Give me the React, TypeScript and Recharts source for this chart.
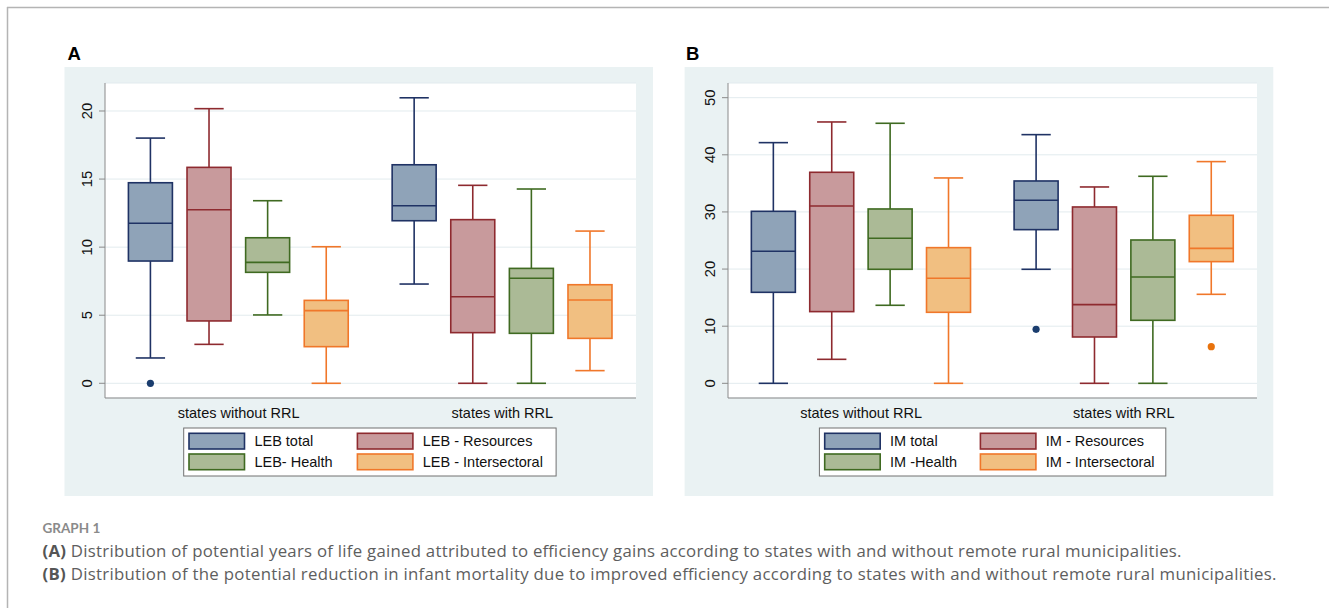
import React from "react";
import { ComposedChart, Bar, XAxis, YAxis, CartesianGrid } from "recharts";

const FONT = '"Liberation Sans", Arial, sans-serif';
const CAPTION_FONT = '"Open Sans", Lato, sans-serif';

// ---------- data ----------
const GROUPS = ["states without RRL", "states with RRL"];
const LEB_SERIES = ["LEB total", "LEB - Resources", "LEB- Health", "LEB - Intersectoral"];
const IM_SERIES = ["IM total", "IM - Resources", "IM -Health", "IM - Intersectoral"];

// [lower whisker, Q1, median, Q3, upper whisker] for [without RRL, with RRL]
const LEB_TOTAL = [[1.86, 8.98, 11.75, 14.73, 18.01], [7.29, 11.94, 13.04, 16.05, 20.97]];
const LEB_RESOURCES = [[2.86, 4.58, 12.75, 15.86, 20.17], [0, 3.72, 6.36, 12.02, 14.54]];
const LEB_HEALTH = [[5.02, 8.15, 8.88, 10.69, 13.41], [0, 3.67, 7.71, 8.44, 14.27]];
const LEB_INTERSECTORAL = [[0, 2.69, 5.34, 6.09, 10.03], [0.93, 3.3, 6.12, 7.24, 11.18]];
// outliers per series, per group
const LEB_OUTLIERS = [[[0], []], [[], []], [[], []], [[], []]];

const IM_TOTAL = [[0, 15.93, 23.11, 30.11, 42.13], [19.96, 26.9, 32.04, 35.42, 43.53]];
const IM_RESOURCES = [[4.2, 12.55, 31.05, 36.94, 45.75], [0, 8.11, 13.77, 30.87, 34.37]];
const IM_HEALTH = [[13.66, 19.96, 25.39, 30.52, 45.52], [0, 11.03, 18.62, 25.09, 36.24]];
const IM_INTERSECTORAL = [[0, 12.43, 18.38, 23.75, 35.95], [15.58, 21.3, 23.63, 29.41, 38.81]];
const IM_OUTLIERS = [[[], [9.45]], [[], []], [[], []], [[], [6.42]]];

const LEB_TICKS = [0, 5, 10, 15, 20];
const IM_TICKS = [0, 10, 20, 30, 40, 50];

// ---------- styles ----------
const FILLS = ["#8fa3b8", "#c89a9c", "#abba96", "#f1bf81"];
const STROKES = ["#1f3264", "#8e2a2f", "#3f6a21", "#f0772a"];
const DOTS = ["#1a3d6e", "#8e2a2f", "#3f6a21", "#e8720c"];
const AXIS_GRAY = "#8a8a8a";

type Row = { pos: number; s: number; stats: number[]; outs: number[]; range: [number, number] };

function buildRows(series: number[][][], outliers: number[][][]): Row[] {
  const rows: Row[] = [];
  for (let g = 0; g < GROUPS.length; g++) {
    for (let s = 0; s < series.length; s++) {
      const st = series[s][g];
      rows.push({ pos: g * 4.5 + s, s, stats: st, outs: outliers[s][g], range: [st[0], st[4]] });
    }
  }
  return rows;
}

const LEB_ROWS = buildRows([LEB_TOTAL, LEB_RESOURCES, LEB_HEALTH, LEB_INTERSECTORAL], LEB_OUTLIERS);
const IM_ROWS = buildRows([IM_TOTAL, IM_RESOURCES, IM_HEALTH, IM_INTERSECTORAL], IM_OUTLIERS);

function BoxShape(props: any) {
  const { x, y, width, height, payload } = props;
  if (!payload || !height) return null;
  const [lo, q1, med, q3, hi] = payload.stats;
  const k = height / (hi - lo);
  const Y = (v: number) => y + (hi - v) * k;
  const cx = x + width / 2;
  const half = width * 0.333;
  const stroke = STROKES[payload.s];
  const fill = FILLS[payload.s];
  const sw = 1.6;
  return (
    <g>
      <line x1={cx} x2={cx} y1={Y(hi)} y2={Y(q3)} stroke={stroke} strokeWidth={sw} />
      <line x1={cx} x2={cx} y1={Y(q1)} y2={Y(lo)} stroke={stroke} strokeWidth={sw} />
      <line x1={cx - half} x2={cx + half} y1={Y(hi)} y2={Y(hi)} stroke={stroke} strokeWidth={sw} />
      <line x1={cx - half} x2={cx + half} y1={Y(lo)} y2={Y(lo)} stroke={stroke} strokeWidth={sw} />
      <rect x={x} y={Y(q3)} width={width} height={Y(q1) - Y(q3)} fill={fill} stroke={stroke} strokeWidth={sw} />
      <line x1={x} x2={x + width} y1={Y(med)} y2={Y(med)} stroke={stroke} strokeWidth={sw} />
      {payload.outs.map((v: number, i: number) => (
        <circle key={i} cx={cx} cy={Y(v)} r={3.6} fill={DOTS[payload.s]} />
      ))}
    </g>
  );
}

function RotTick(props: any) {
  const { x, y, payload } = props;
  const px = x - 5.3;
  return (
    <text
      x={px}
      y={y}
      transform={`rotate(-90 ${px} ${y})`}
      textAnchor="middle"
      fontSize={14.8}
      fontFamily={FONT}
      fill="#111"
    >
      {payload.value}
    </text>
  );
}

function Panel(props: {
  rows: Row[];
  left: number;
  yAxisWidth: number;
  rightMargin: number;
  yDomain: [number, number];
  yTicks: number[];
}) {
  const { rows, left, yAxisWidth, rightMargin, yDomain, yTicks } = props;
  return (
    <div style={{ position: "absolute", left, top: 67 }}>
      <ComposedChart
        width={588}
        height={361}
        data={rows}
        margin={{ top: 16, right: rightMargin, bottom: 0, left: 0 }}
      >
        <CartesianGrid vertical={false} stroke="#e2ebee" fill="#ffffff" />
        <XAxis
          type="number"
          dataKey="pos"
          domain={[-0.78, 8.28]}
          ticks={[1.5, 6]}
          interval={0}
          allowDataOverflow
          tickFormatter={(v: number) => (v < 3 ? GROUPS[0] : GROUPS[1])}
          tickLine={{ stroke: "none" }}
          tickSize={6}
          tickMargin={3.5}
          axisLine={{ stroke: AXIS_GRAY }}
          tick={{ fontSize: 14.5, fontFamily: FONT, fill: "#111" }}
          height={30}
        />
        <YAxis
          type="number"
          domain={yDomain}
          ticks={yTicks}
          interval={0}
          allowDataOverflow
          width={yAxisWidth}
          tick={<RotTick />}
          tickLine={{ stroke: AXIS_GRAY }}
          tickSize={6}
          axisLine={{ stroke: AXIS_GRAY }}
        />
        <Bar dataKey="range" barSize={44} shape={<BoxShape />} isAnimationActive={false} />
      </ComposedChart>
    </div>
  );
}

function LegendBox(props: { x: number; width: number; col2: number; labels: string[] }) {
  const { x, width, col2, labels } = props;
  const top = 427.5;
  const rowsY = [433.3, 454];
  const cols = [5.8, col2];
  return (
    <g>
      <rect x={x + 0.5} y={top + 0.5} width={width} height={48} fill="#ffffff" stroke="#707070" strokeWidth={1} />
      {labels.map((lab, i) => {
        const c = i % 2;
        const r = Math.floor(i / 2);
        const sx = x + cols[c];
        const sy = rowsY[r];
        return (
          <g key={i}>
            <rect x={sx} y={sy} width={55.5} height={15.7} fill={FILLS[i]} stroke={STROKES[i]} strokeWidth={1.6} />
            <text x={sx + 65.4} y={sy + 13} fontSize={14.5} fontFamily={FONT} fill="#111">
              {lab}
            </text>
          </g>
        );
      })}
    </g>
  );
}

export default function App() {
  return (
    <div style={{ position: "absolute", left: 0, top: 0, width: 1329, height: 608, overflow: "hidden", background: "#fff" }}>
      <svg width={1329} height={608} style={{ position: "absolute", left: 0, top: 0 }}>
        <line x1={7} y1={7.5} x2={1329} y2={7.5} stroke="#b4b4b4" strokeWidth={1.5} />
        <line x1={7.5} y1={7} x2={7.5} y2={608} stroke="#b4b4b4" strokeWidth={1.5} />
        <rect x={64.5} y={67} width={588.5} height={429} fill="#eaf2f3" />
        <rect x={684.6} y={67} width={588.7} height={429} fill="#eaf2f3" />
        <text x={67.5} y={60} fontSize={18.5} fontWeight={700} fontFamily={FONT} fill="#000">A</text>
        <text x={686} y={60} fontSize={18.5} fontWeight={700} fontFamily={FONT} fill="#000">B</text>
        <LegendBox x={183.2} width={372.4} col2={174.2} labels={LEB_SERIES} />
        <LegendBox x={818.9} width={346.4} col2={161.5} labels={IM_SERIES} />
        <text x={42.5} y={533.3} fontSize={13.5} fontWeight={700} fontFamily='Lato, sans-serif' fill="#8a8a8a">GRAPH 1</text>
        <text x={42.5} y={557.3} fontSize={16.8} fontFamily={CAPTION_FONT} fill="#5e5e5e" textLength={1139} lengthAdjust="spacing">
          <tspan fontWeight={700} fill="#555">(A)</tspan>
          {" Distribution of potential years of life gained attributed to efficiency gains according to states with and without remote rural municipalities."}
        </text>
        <text x={42.5} y={580} fontSize={16.8} fontFamily={CAPTION_FONT} fill="#5e5e5e" textLength={1234} lengthAdjust="spacing">
          <tspan fontWeight={700} fill="#555">(B)</tspan>
          {" Distribution of the potential reduction in infant mortality due to improved efficiency according to states with and without remote rural municipalities."}
        </text>
      </svg>
      <Panel rows={LEB_ROWS} left={65} yAxisWidth={40} rightMargin={17} yDomain={[-1.08, 22.056]} yTicks={LEB_TICKS} />
      <Panel rows={IM_ROWS} left={685} yAxisWidth={43} rightMargin={16} yDomain={[-2.57, 52.57]} yTicks={IM_TICKS} />
    </div>
  );
}
